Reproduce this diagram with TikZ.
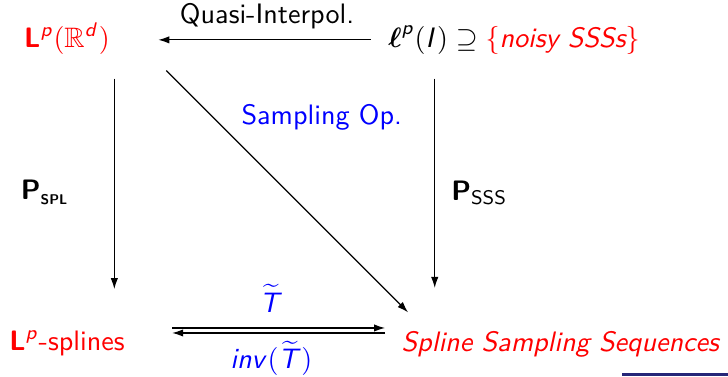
\documentclass[tikz,border=0pt]{standalone}
\usepackage{amsmath}
\usepackage{amssymb}
\usepackage{xcolor}
\usepackage{tikz}
\usetikzlibrary{arrows.meta,positioning}

\DeclareMathAlphabet{\mathsfit}{OT1}{cmss}{m}{sl}
\DeclareMathAlphabet{\mathsfbf}{OT1}{cmss}{bx}{n}
\DeclareMathAlphabet{\mathsfrm}{OT1}{cmss}{m}{n}
\definecolor{navbar}{RGB}{38,38,120}

\begin{document}
\begin{tikzpicture}[
  font=\sffamily,
  space/.style={inner sep=0pt, anchor=base, text=red},
  lbl/.style={inner sep=0pt},
  oplbl/.style={lbl, text=blue},
  arr/.style={-{Latex[length=3.9pt,width=2.6pt]}, thin}
]
\useasboundingbox (0,0) rectangle (9.1,-4.7);

\node[space] (lp) at (0.8375,-0.5875) {$\mathsfbf{L}^{\mathsfit{p}}\mathsfrm{(}\mathbb{R}^{\mathsfit{d}}\mathsfrm{)}$};
\node[space, text=black] (ell) at (6.425,-0.5875) {$\boldsymbol{\ell}^{\mathsfit{p}}\mathsfrm{(}\mathsfit{I}\mathsfrm{)}\supseteq\textcolor{red}{\{\textit{noisy SSSs}\}}$};
\node[space] (lps) at (0.8375,-4.375) {$\mathsfbf{L}^{\mathsfit{p}}$-splines};
\node[space] (sss) at (7.0125,-4.3875) {\textit{Spline Sampling Sequences}};

\draw[arr, shorten <=0.21cm, shorten >=0.6cm] (ell.west) -- (ell.west -| lp.east)
  node[lbl, pos=0.435, above=0.125cm] {Quasi-Interpol.};
\draw[arr, shorten <=0.3cm, shorten >=0.51cm] ([xshift=0.05cm]lp.south east) -- ([xshift=0.05cm]lp.south east |- lps.north)
  node[lbl, midway, left=0.5625cm] {$\mathsfbf{P}_{\scriptscriptstyle\mathsfbf{SPL}}$};
\draw[arr, shorten <=0.3cm, shorten >=0.53cm] ([xshift=0.5875cm]ell.south west) -- ([xshift=0.5875cm]ell.south west |- sss.north)
  node[lbl, midway, right=0.2cm] {$\mathsfbf{P}_{\mathsfrm{SSS}}$};
\draw[arr] ([xshift=0.7cm,yshift=-0.2cm]lp.south east) -- ([xshift=0.0875cm,yshift=0.225cm]sss.north west)
  node[oplbl, pos=0.193, right=0.35cm] {Sampling Op.};
\draw[arr, shorten <=0.5875cm, shorten >=0.2cm] ([yshift=0.1875cm]lps.east) -- ([yshift=0.1875cm]lps.east -| sss.west)
  node[oplbl, pos=0.53, above=0.19cm] {$\widetilde{\mathsfit{T}}$};
\draw[arr, shorten <=0.2cm, shorten >=0.5875cm] ([yshift=0.125cm]lps.east -| sss.west) -- ([yshift=0.125cm]lps.east)
  node[oplbl, pos=0.47, below=0.09cm] {$\mathsfit{inv}\mathsfrm{(}\widetilde{\mathsfit{T}}\mathsfrm{)}$};

\fill[navbar] (7.775,-4.6625) rectangle (9.1,-4.7);
\end{tikzpicture}
\end{document}
